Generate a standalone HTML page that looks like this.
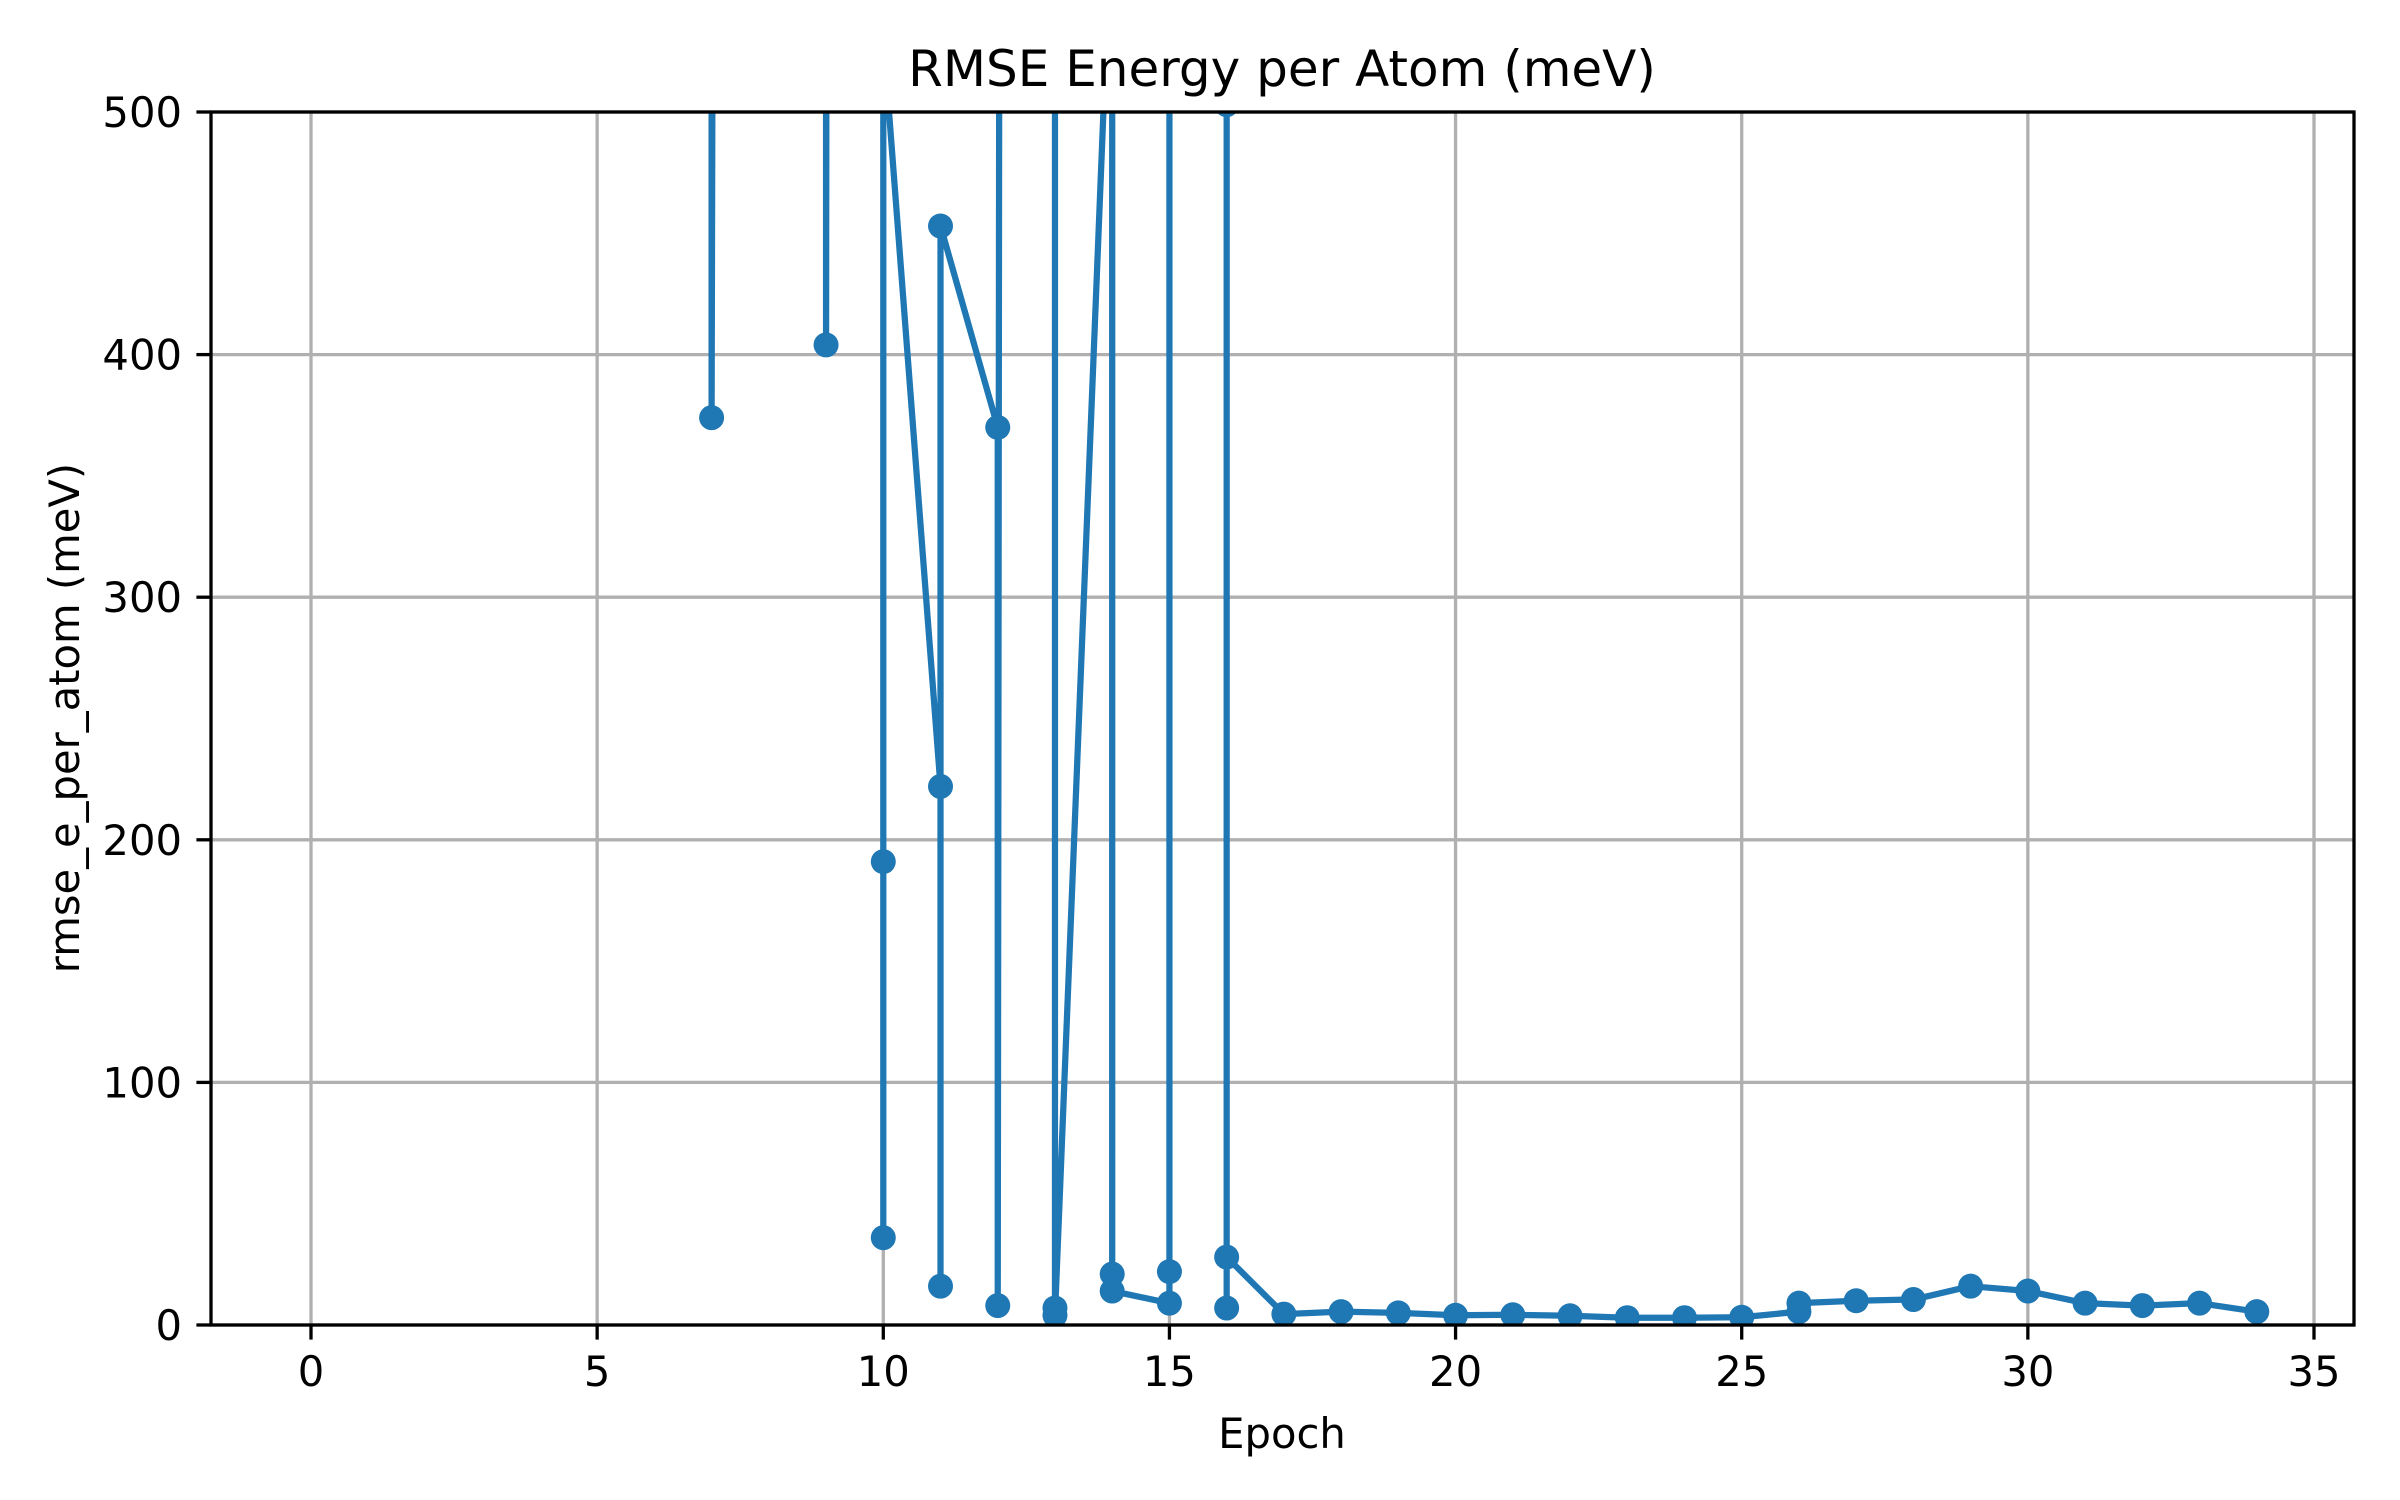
<!DOCTYPE html>
<html><head><meta charset="utf-8"><style>
html,body{margin:0;padding:0;background:#fff;}
svg{display:block;font-family:"DejaVu Sans","Liberation Sans",sans-serif;}
</style></head><body>
<svg id="chart" width="2400" height="1500" viewBox="0 0 2400 1500" xmlns="http://www.w3.org/2000/svg">
<defs><clipPath id="plotclip"><rect x="211" y="112" width="2143" height="1213"/></clipPath></defs>
<rect x="0" y="0" width="2400" height="1500" fill="#fff"/>
<g id="grid"></g>
<g id="series" clip-path="url(#plotclip)"></g>
<rect x="211" y="112" width="2143" height="1213" fill="none" stroke="#000" stroke-width="3.3"/>
<g id="ticks"></g>
<text x="1282" y="86" font-size="50" text-anchor="middle">RMSE Energy per Atom (meV)</text>
<text x="1282" y="1448" font-size="41.7" text-anchor="middle">Epoch</text>
<text x="79" y="718" font-size="41.7" text-anchor="middle" transform="rotate(-90 79 718)">rmse_e_per_atom (meV)</text>
</svg>
<script>
const epochs = [7,7,9,9,10,10,10,10,11,11,11,12,12,13,13,13,14,14,14,15,15,15,16,16,16,16,17,18,19,20,21,22,23,24,25,26,26,27,28,29,30,31,32,33,34];
const rmse = [20000,374,20000,404,20000,191,36,531,222,16,453,370,8,20000,7,4,590,21,14,9,22,20000,20000,503,7,28,4.5,5.5,5,4,4.2,3.8,3,3,3.2,5.5,9,10,10.5,16,14,9,8,9,5.5];
const xTicks = [0,5,10,15,20,25,30,35];
const yTicks = [0,100,200,300,400,500];

const NS = "http://www.w3.org/2000/svg";
const L=211,R=2354,T=112,B=1325;
function xs(v){return 311 + (v-0)*(2314-311)/35;}
function ys(v){return B - v*(B-T)/500;}
const grid=document.getElementById('grid'), ticks=document.getElementById('ticks'), ser=document.getElementById('series');
function mk(tag,attrs,parent){const e=document.createElementNS(NS,tag);for(const k in attrs)e.setAttribute(k,attrs[k]);parent.appendChild(e);return e;}
xTicks.forEach(t=>{
  const x=xs(t);
  const g=mk('line',{x1:x,x2:x,y1:T,y2:B,stroke:'#b0b0b0','stroke-width':3.3},grid);
  
  
  const tk=mk('line',{x1:x,x2:x,y1:B,y2:B+14.6,stroke:'#000','stroke-width':3.3},ticks);
  
  
  const tx=mk('text',{x:x,y:B+61,'font-size':41.7,'text-anchor':'middle'},ticks);
  tx.textContent=t;
  
  
});
yTicks.forEach(t=>{
  const y=ys(t);
  const g=mk('line',{x1:L,x2:R,y1:y,y2:y,stroke:'#b0b0b0','stroke-width':3.3},grid);
  
  
  const tk=mk('line',{x1:L-14.6,x2:L,y1:y,y2:y,stroke:'#000','stroke-width':3.3},ticks);
  
  
  const tx=mk('text',{x:L-29,y:y+15,'font-size':41.7,'text-anchor':'end'},ticks);
  tx.textContent=t;
  
  
});
const pts=epochs.map((e,i)=>xs(e).toFixed(2)+','+ys(rmse[i]).toFixed(2)).join(' ');
const pl=mk('polyline',{points:pts,fill:'none',stroke:'#1f77b4','stroke-width':6.25,'stroke-linejoin':'round'},ser);


epochs.forEach((e,i)=>{
  const c=mk('circle',{cx:xs(e),cy:ys(rmse[i]),r:12.5,fill:'#1f77b4'},ser);
  
  
});
</script>
</body></html>
